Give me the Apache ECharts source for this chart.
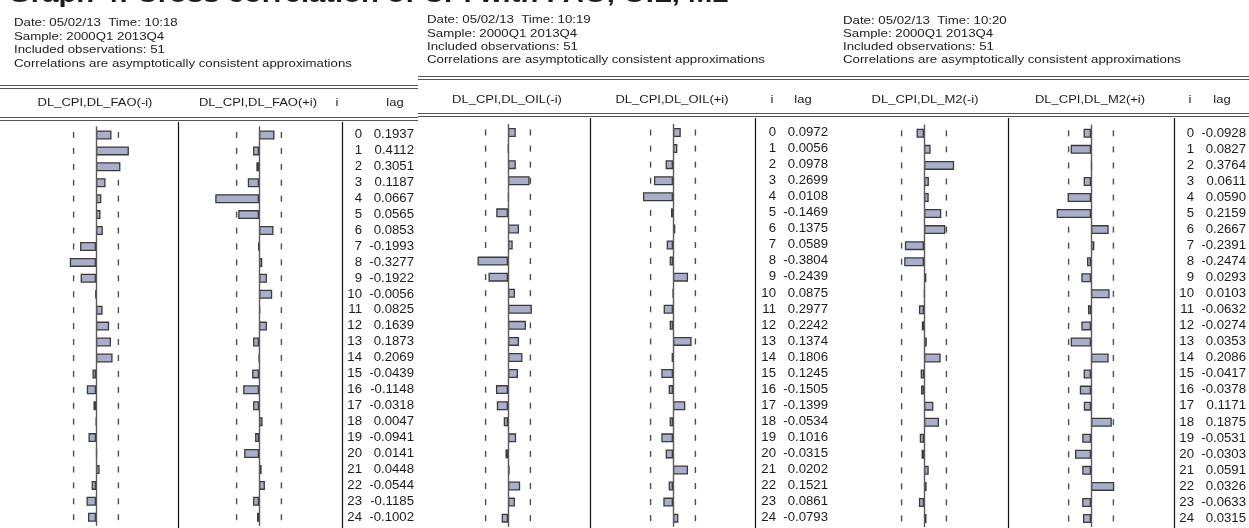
<!DOCTYPE html>
<html><head><meta charset="utf-8">
<script src="https://cdn.jsdelivr.net/npm/echarts@6/dist/echarts.min.js"></script>
<style>html,body{margin:0;padding:0;background:#fff}#c{width:1249px;height:528px}</style>
</head><body><div id="c"></div>
<script>
// ---------------- DATA ----------------
const lags = [0,1,2,3,4,5,6,7,8,9,10,11,12,13,14,15,16,17,18,19,20,21,22,23,24];
const band = 0.28; // approx. 2/sqrt(51)

const titleText = "Graph 4: Cross correlation of CPI with FAO, OIL, M2";
const headerLines = [
  ["Date: 05/02/13  Time: 10:18", "Sample: 2000Q1 2013Q4", "Included observations: 51", "Correlations are asymptotically consistent approximations"],
  ["Date: 05/02/13  Time: 10:19", "Sample: 2000Q1 2013Q4", "Included observations: 51", "Correlations are asymptotically consistent approximations"],
  ["Date: 05/02/13  Time: 10:20", "Sample: 2000Q1 2013Q4", "Included observations: 51", "Correlations are asymptotically consistent approximations"]
];
const colHeaders = [
  ["DL_CPI,DL_FAO(-i)", "DL_CPI,DL_FAO(+i)", "i", "lag"],
  ["DL_CPI,DL_OIL(-i)", "DL_CPI,DL_OIL(+i)", "i", "lag"],
  ["DL_CPI,DL_M2(-i)", "DL_CPI,DL_M2(+i)", "i", "lag"]
];

const faoMinus = [0.1937,0.4112,0.3051,0.1187,0.0667,0.0565,0.0853,-0.1993,-0.3277,-0.1922,-0.0056,0.0825,0.1639,0.1873,0.2069,-0.0439,-0.1148,-0.0318,0.0047,-0.0941,0.0141,0.0448,-0.0544,-0.1185,-0.1002];
const faoPlus  = [0.1937,-0.074,-0.033,-0.140,-0.547,-0.260,0.181,-0.008,0.041,0.099,0.165,0.016,0.099,-0.074,0.003,-0.086,-0.198,-0.074,0.045,-0.049,-0.185,0.033,0.074,-0.074,-0.025];

const oilMinus = [0.0972,0.0056,0.0978,0.2699,0.0108,-0.1469,0.1375,0.0589,-0.3804,-0.2439,0.0875,0.2977,0.2242,0.1374,0.1806,0.1245,-0.1505,-0.1399,-0.0534,0.1016,-0.0315,0.0202,0.1521,0.0861,-0.0793];
const oilPlus  = [0.0972,0.054,-0.092,-0.238,-0.375,-0.025,0.029,-0.079,-0.042,0.188,0.002,-0.117,-0.042,0.233,-0.017,-0.146,-0.054,0.154,-0.042,-0.146,-0.092,0.188,-0.054,-0.121,0.067];

const m2Minus = [-0.0928,0.0827,0.3764,0.0611,0.0590,0.2159,0.2667,-0.2391,-0.2474,0.0293,0.0103,-0.0632,-0.0274,0.0353,0.2086,-0.0417,-0.0378,0.1171,0.1875,-0.0531,-0.0303,0.0591,0.0326,-0.0633,0.0315];
const m2Plus  = [-0.0928,-0.254,0.012,-0.092,-0.292,-0.429,0.221,0.042,-0.050,-0.121,0.233,-0.038,-0.121,-0.254,0.221,-0.092,-0.140,-0.090,0.260,-0.110,-0.200,-0.110,0.290,-0.110,-0.100];

// ---------------- LAYOUT ----------------
const FONT = '"Liberation Sans", Arial, sans-serif';
const TXT = '#1c1c1c';
const BAR = '#A9AFCB';
const BARB = '#3a3a3a';
const PX_PER_UNIT = 80;

const panels = [
  {minus: faoMinus, plus: faoPlus, tx: 14, ty: [23,37,50,64], dbl1: 85, hdrY: 103, dbl2: 117, lineL: 0, lineR: 418,
   zeroL: 96, sep1: 178, zeroR: 259, sep2: 342, top: 127, h: 398.2, hx: [95, 258, 337, 395]},
  {minus: oilMinus, plus: oilPlus, tx: 427, ty: [20,34,47,60], dbl1: 76, hdrY: 100, dbl2: 113, lineL: 418, lineR: 836,
   zeroL: 508, sep1: 590, zeroR: 673, sep2: 755, top: 124.5, h: 401.7, hx: [507, 672, 772, 803]},
  {minus: m2Minus, plus: m2Plus, tx: 843, ty: [21,34,47,60], dbl1: 76, hdrY: 100, dbl2: 113, lineL: 836, lineR: 1249,
   zeroL: 924, sep1: 1008, zeroR: 1091, sep2: 1174, top: 125.3, h: 401.2, hx: [925, 1090, 1190, 1222]}
];

const grids = [], xAxes = [], yAxes = [], series = [], graphics = [];
const cats = lags.map(String);

function addColumn(zero, top, h, values, withTable) {
  const gi = grids.length;
  grids.push({left: zero - PX_PER_UNIT, top: top, width: 2 * PX_PER_UNIT, height: h, containLabel: false});
  xAxes.push({gridIndex: gi, type: 'value', min: -1, max: 1, show: false, splitLine: {show: false}});
  yAxes.push({gridIndex: gi, type: 'category', data: cats, inverse: true, z: 4,
    axisLine: {show: true, onZero: true, lineStyle: {color: '#5a5a5a', width: 1.4}},
    axisTick: {show: false}, axisLabel: {show: false}, splitLine: {show: false}});
  const dashData = [];
  lags.forEach((l, i) => { dashData.push([-band, i]); dashData.push([band, i]); });
  series.push({type: 'scatter', xAxisIndex: gi, yAxisIndex: gi, data: dashData, symbol: 'rect',
    symbolSize: [1.4, 6], itemStyle: {color: '#222'}, silent: true, animation: false, z: 1});
  series.push({type: 'bar', xAxisIndex: gi, yAxisIndex: gi, data: values, barWidth: 9, silent: true, z: 3,
    itemStyle: {color: BAR, borderColor: BARB, borderWidth: 1.3}, animation: false});
  if (withTable) {
    series.push({type: 'custom', xAxisIndex: gi, yAxisIndex: gi, clip: false, silent: true, animation: false,
      data: lags.map((l, i) => [0, i, withTable[i], l]),
      renderItem: function (params, api) {
        const p = api.coord([0, api.value(1)]);
        const idx = api.value(3);
        const v = api.value(2);
        return {type: 'group', children: [
          {type: 'text', x: p[0] + 103, y: p[1], scaleX: 1.1,
           style: {text: String(idx), fill: TXT, font: '12px ' + FONT, align: 'right', verticalAlign: 'middle'}},
          {type: 'text', x: p[0] + 155, y: p[1], scaleX: 1.1,
           style: {text: v.toFixed(4), fill: TXT, font: '12px ' + FONT, align: 'right', verticalAlign: 'middle'}}
        ]};
      }});
  }
}

function hline(x1, x2, y, w, c) {
  graphics.push({type: 'line', shape: {x1: x1, y1: y, x2: x2, y2: y}, style: {stroke: c, lineWidth: w}, silent: true});
}
function vline(x, y1, y2, w, c) {
  graphics.push({type: 'line', shape: {x1: x, y1: y1, x2: x, y2: y2}, style: {stroke: c, lineWidth: w}, silent: true});
}
function text(x, y, s, size, align, sx, bold) {
  graphics.push({type: 'text', x: x, y: y, scaleX: sx, silent: true,
    style: {text: s, fill: TXT, font: (bold ? 'bold ' : '') + size + 'px ' + FONT, align: align, verticalAlign: 'middle'}});
}

text(8, -5, titleText, 24, 'left', 1.22, true);

panels.forEach((p, k) => {
  headerLines[k].forEach((s, j) => text(p.tx, p.ty[j], s, 10.2, 'left', 1.3));
  hline(p.lineL, p.lineR, p.dbl1 + 0.5, 1.2, '#555');
  hline(p.lineL, p.lineR, p.dbl1 + 3.5, 1.2, '#555');
  hline(p.lineL, p.lineR, p.dbl2 + 0.5, 1.2, '#555');
  hline(p.lineL, p.lineR, p.dbl2 + 3.5, 1.2, '#555');
  text(p.hx[0], p.hdrY, colHeaders[k][0], 10, 'center', 1.3);
  text(p.hx[1], p.hdrY, colHeaders[k][1], 10, 'center', 1.3);
  text(p.hx[2], p.hdrY, colHeaders[k][2], 10, 'center', 1.3);
  text(p.hx[3], p.hdrY, colHeaders[k][3], 10, 'center', 1.3);
  vline(p.sep1 + 0.5, p.dbl2 + 5, 528, 1.2, '#111');
  vline(p.sep2 + 0.5, p.dbl2 + 5, 528, 1.2, '#111');
  addColumn(p.zeroL, p.top, p.h, p.minus, null);
  addColumn(p.zeroR, p.top, p.h, p.plus, p.minus);
});

const chart = echarts.init(document.getElementById('c'), null, {renderer: 'canvas'});
chart.setOption({
  animation: false,
  backgroundColor: '#ffffff',
  grid: grids, xAxis: xAxes, yAxis: yAxes, series: series,
  graphic: {elements: graphics}
});
</script></body></html>
